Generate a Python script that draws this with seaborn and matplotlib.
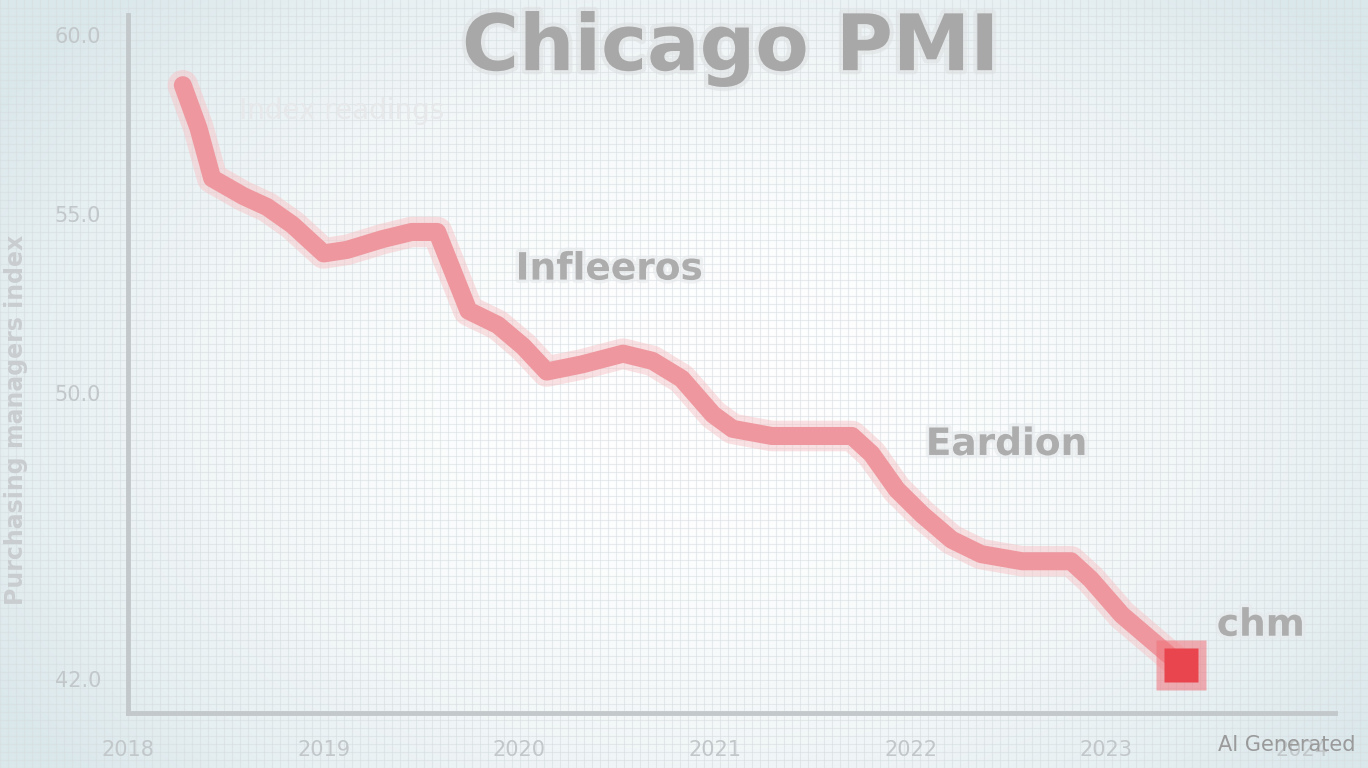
import numpy as np
import pandas as pd
import seaborn as sns
import matplotlib.pyplot as plt
import matplotlib.patheffects as pe

# chart values
period = [0.28, 0.36, 0.43, 0.59, 0.71, 0.84, 1.00, 1.12, 1.30, 1.45, 1.58, 1.66,
          1.74, 1.89, 2.02, 2.14, 2.32, 2.53, 2.68, 2.83, 2.99, 3.09, 3.29, 3.50,
          3.70, 3.80, 3.93, 4.06, 4.21, 4.36, 4.57, 4.82, 4.92, 5.08, 5.23, 5.38]
pmi = [58.6, 57.4, 56.0, 55.5, 55.2, 54.7, 53.9, 54.0, 54.3, 54.5, 54.5, 53.4,
       52.3, 51.9, 51.3, 50.6, 50.8, 51.1, 50.9, 50.4, 49.4, 49.0, 48.8, 48.8,
       48.8, 48.3, 47.3, 46.6, 45.9, 45.5, 45.3, 45.3, 44.8, 43.8, 43.1, 42.4]
x_ticks = [0, 1, 2, 3, 4, 5, 6]
x_labels = ['2018', '2019', '2020', '2021', '2022', '2023', '2024']
y_ticks = [42, 50, 55, 60]
y_labels = ['42.0', '50.0', '55.0', '60.0']
notes = ['Infleeros', 'Eardion', 'chm']
note_x = [2.46, 4.49, 5.79]
note_y = [53.45, 48.55, 43.5]

df = pd.DataFrame({'period': period, 'pmi': pmi})

sns.set_theme(style='white')
plt.rcParams['font.family'] = ['DejaVu Sans']

fig = plt.figure(figsize=(13.68, 7.68), dpi=100)

# background: soft vignette plus fine grid
bg = fig.add_axes([0, 0, 1, 1])
yy, xx = np.mgrid[0:768, 0:1368]
r = np.sqrt(((xx - 700) / 820.0) ** 2 + ((yy - 400) / 560.0) ** 2)
shade = np.clip(r, 0, 1) ** 2
c_in = np.array([1.0, 1.0, 1.0])
c_out = np.array([0.86, 0.91, 0.925])
img = c_in[None, None, :] * (1 - shade[..., None]) + c_out[None, None, :] * shade[..., None]
bg.imshow(img, extent=[0, 1368, 0, 768], aspect='auto', zorder=0)
bg.set_xlim(0, 1368)
bg.set_ylim(0, 768)
for gx in np.arange(0, 1368, 8):
    bg.axvline(gx, color='#d6dde0', lw=0.8, alpha=0.55, zorder=1)
for gy in np.arange(0, 768, 8):
    bg.axhline(gy, color='#d6dde0', lw=0.8, alpha=0.55, zorder=1)
bg.axis('off')

ax = fig.add_axes([0.0936, 0.0716, 0.8824, 0.9088])
ax.set_facecolor('none')

# soft glow under the line
ax.plot(df['period'], df['pmi'], color='#f6c4c7', lw=22, alpha=0.5,
        solid_capstyle='round', solid_joinstyle='round', zorder=2)
sns.lineplot(data=df, x='period', y='pmi', ax=ax, color='#ee979e', lw=13,
             sort=False, zorder=3)
for line in ax.lines:
    line.set_solid_capstyle('round')
    line.set_solid_joinstyle('round')
ax.plot(period[-1:], pmi[-1:], marker='s', ms=36, color='#f07078', alpha=0.55,
        mec='none', zorder=4)
ax.plot(period[-1:], pmi[-1:], marker='s', ms=24, color='#e8454f', mec='none', zorder=5)

ax.set_xlim(0, 6.17)
ax.set_ylim(41.06, 60.56)
ax.set_xticks(x_ticks)
ax.set_xticklabels(x_labels)
ax.set_yticks(y_ticks)
ax.set_yticklabels(y_labels)
ax.tick_params(axis='both', colors='#c3c8cb', labelcolor='#c2c7ca', labelsize=15,
               length=16, width=3, direction='out')
for side in ['top', 'right']:
    ax.spines[side].set_visible(False)
for side in ['left', 'bottom']:
    ax.spines[side].set_color('#c3c8cb')
    ax.spines[side].set_linewidth(3.5)
ax.set_xlabel('')
ax.set_ylabel('Purchasing managers index', fontsize=17, fontweight='bold',
              color='#c9cdd0')
ax.yaxis.set_label_coords(-0.083, 0.42)

glow = [pe.withStroke(linewidth=5, foreground='#e6e9eb', alpha=0.6)]
for t, tx, ty in zip(notes, note_x, note_y):
    ax.text(tx, ty, t, fontsize=27, fontweight='bold', color='#adadad',
            ha='center', va='center', path_effects=glow, zorder=6)

fig.text(0.534, 0.937, 'Chicago PMI', fontsize=56, fontweight='bold',
         color='#a8a8a8', ha='center', va='center',
         path_effects=[pe.withStroke(linewidth=6, foreground='#dcdedf', alpha=0.5)])
fig.text(0.25, 0.856, 'Index readings', fontsize=20, color='#e6e8ea',
         ha='center', va='center')
fig.text(0.991, 0.03, 'AI Generated', fontsize=15, color='#9a9a9a',
         ha='right', va='center')

fig.savefig('out.png', dpi=100)
